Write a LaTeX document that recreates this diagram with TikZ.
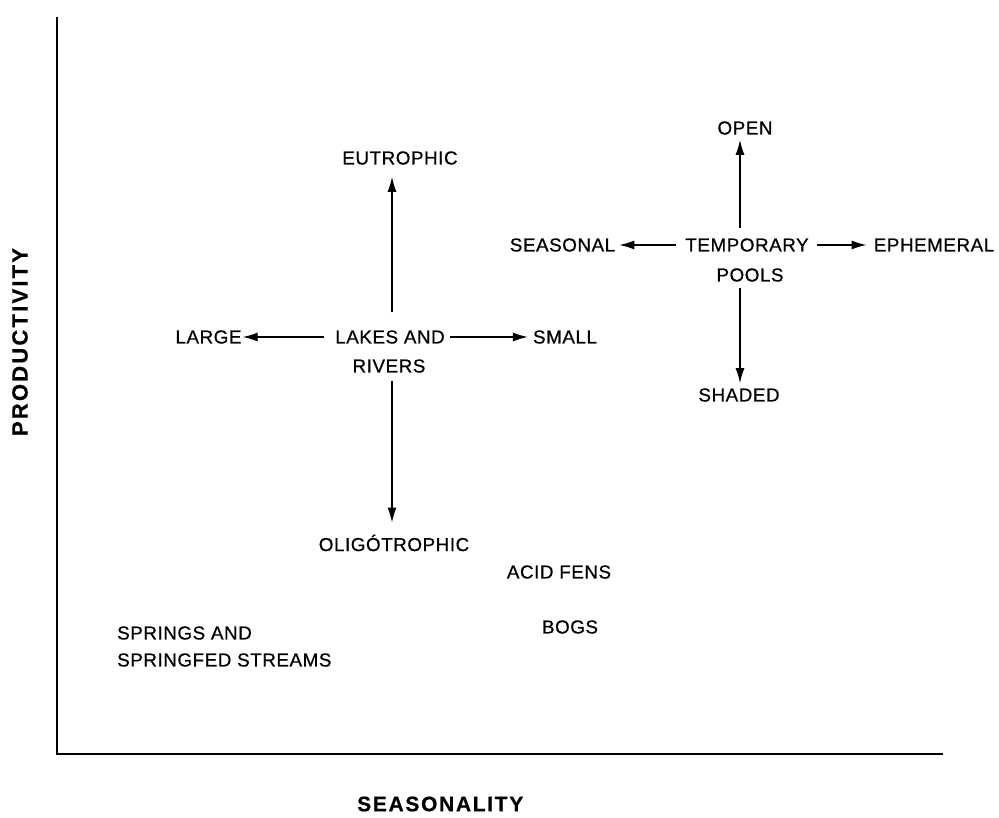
\documentclass[tikz,border=0pt]{standalone}
\usepackage{fontspec}
\setmainfont{Liberation Sans}
\newfontfamily\labfont[LetterSpace=3,FakeBold=0.6]{Liberation Sans}
\newfontfamily\axisfont[LetterSpace=8,FakeBold=0.5]{Liberation Sans}
\newfontfamily\prodfont[LetterSpace=10,FakeBold=0.5]{Liberation Sans}
\usetikzlibrary{arrows.meta}
\tikzset{
  lab/.style={inner sep=0pt, font=\labfont\fontsize{18.8}{22}\selectfont},
  axlab/.style={inner sep=0pt, font=\axisfont\bfseries\fontsize{21}{24}\selectfont},
  prodlab/.style={inner sep=0pt, font=\prodfont\bfseries\fontsize{22}{25}\selectfont},
  arr/.style={line width=1.3pt, -{Latex[length=15pt,width=9pt]}},
  axis/.style={line width=2pt}
}
\begin{document}
\begin{tikzpicture}[x=1pt,y=-1pt]
\useasboundingbox[fill=white] (0,0) rectangle (999,817);
% axes
\coordinate (origin) at (57,754);
\coordinate (ytop) at (57,17);
\coordinate (xend) at (943,754);
\draw[axis] (ytop) -- (origin) -- (xend);
% axis labels
\node[prodlab, rotate=90] (prod) at (20,342) {PRODUCTIVITY};
\node[axlab, anchor=west] (seas) at (357,804) {SEASONALITY};
% lakes and rivers
\node[lab] (eutro) at (400,158) {EUTROPHIC};
\node[lab] (lakes) at (390,337) {LAKES AND};
\node[lab] (rivers) at (389,366) {RIVERS};
\node[lab] (large) at (208.5,337) {LARGE};
\node[lab] (small) at (565,337) {SMALL};
\node[lab] (oligo) at (394,543) {OLIGÓTROPHIC};
\draw[arr] ([xshift=2pt,yshift=18pt]lakes.north) -- ([xshift=-8pt,yshift=-12pt]eutro.south);
\draw[arr] ([xshift=3pt,yshift=-8pt]rivers.south) -- ([xshift=-2pt,yshift=12pt]oligo.north);
\draw[arr] ([xshift=-11pt]lakes.west) -- ([xshift=1pt]large.east);
\draw[arr] ([xshift=5pt]lakes.east) -- ([xshift=-5pt]small.west);
% temporary pools
\node[lab] (open) at (745,128) {OPEN};
\node[lab] (temp) at (747,245) {TEMPORARY};
\node[lab] (pools) at (750,275) {POOLS};
\node[lab] (seasonal) at (562.5,245) {SEASONAL};
\node[lab] (ephem) at (934,245) {EPHEMERAL};
\node[lab] (shaded) at (739,395) {SHADED};
\draw[arr] ([xshift=-7pt,yshift=10pt]temp.north) -- ([xshift=-5pt,yshift=-5pt]open.south);
\draw[arr] ([xshift=-10pt,yshift=-6pt]pools.south) -- ([xshift=1pt,yshift=5pt]shaded.north);
\draw[arr] ([xshift=-9pt]temp.west) -- ([xshift=4pt]seasonal.east);
\draw[arr] ([xshift=8pt]temp.east) -- ([xshift=-7pt]ephem.west);
% other habitats
\node[lab] (acid) at (559,572) {ACID FENS};
\node[lab] (bogs) at (570,627) {BOGS};
\node[lab, anchor=west] (springs) at (117,633) {SPRINGS AND};
\node[lab, anchor=west] (springfed) at (117,660) {SPRINGFED STREAMS};
\end{tikzpicture}
\end{document}
